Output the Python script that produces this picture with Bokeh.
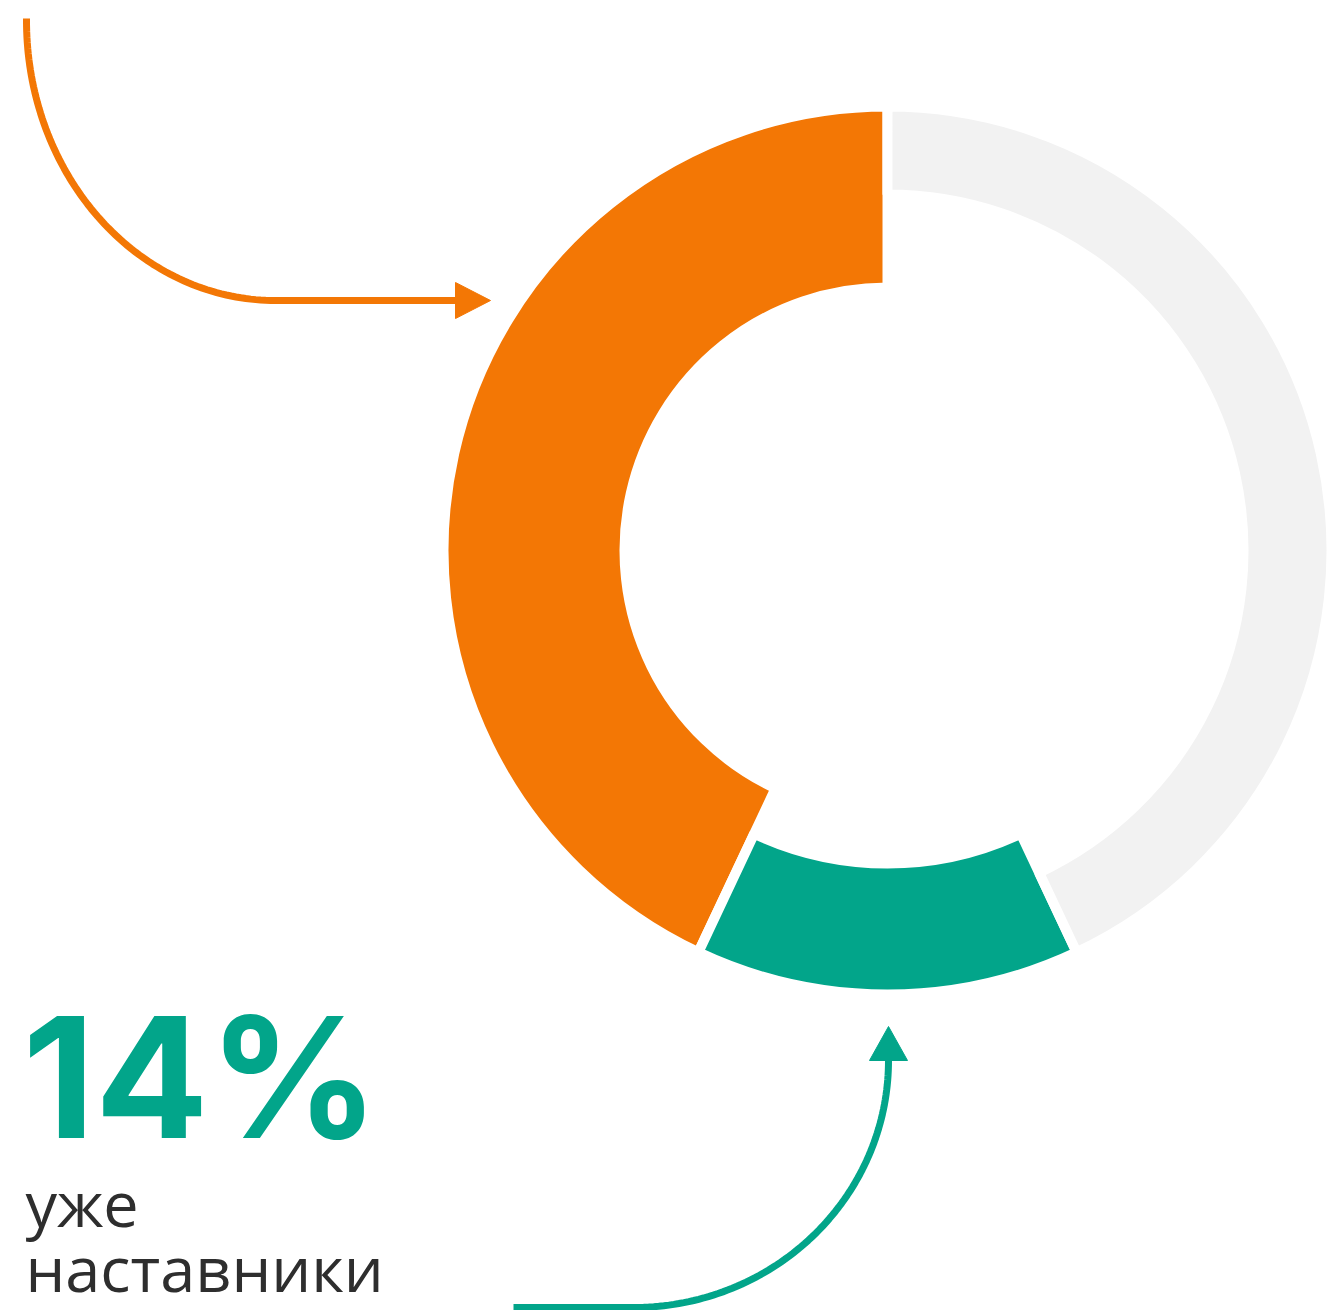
import numpy as np
from bokeh.plotting import figure
from bokeh.models import Range1d
from bokeh.core.properties import value
from bokeh.embed import file_html
from bokeh.resources import INLINE

# ---- data ----
categories = ["orange_group", "mentors", "other"]
shares = [43, 14, 43]
colors = ["#F37705", "#02A58A", "#F2F2F2"]
inner_radii = [263, 313, 356]
outer_radius = 444
pct_label = "14%"
caption_lines = ["уже", "наставники"]

W, H = 1327, 1310
p = figure(width=W, height=H, output_backend="svg", toolbar_location=None,
           x_range=Range1d(0, W), y_range=Range1d(0, H), min_border=0)
p.axis.visible = False
p.xgrid.visible = False
p.ygrid.visible = False
p.outline_line_color = None
p.background_fill_color = "white"
p.border_fill_color = "white"

cx, cy = 887, 760
total = sum(shares)
start = np.pi / 2
for cat, s, c, r_in in zip(categories, shares, colors, inner_radii):
    end = start + 2 * np.pi * s / total
    p.annular_wedge(x=cx, y=cy, inner_radius=r_in, outer_radius=outer_radius,
                    start_angle=start, end_angle=end, fill_color=c,
                    line_color="white", line_width=10)
    start = end

# orange arrow (quarter ellipse from top-left into horizontal)
t = np.linspace(0, np.pi / 2, 80)
ex, ey = 275, 1290  # ellipse centre (data coords)
ax_, by_ = 249, 280
xs = [26] + list(ex - ax_ * np.cos(t)) + [460]
ys = [1292] + list(ey - by_ * np.sin(t)) + [1010]
p.line(xs, ys, line_color="#F37705", line_width=7)
p.patch([455, 490, 455], [1028, 1010, 992], fill_color="#F37705", line_color="#F37705")

# teal arrow (horizontal then curving up)
ecx, ecy = 633, 250
a2, b2 = 255, 247
xs2 = [513] + list(ecx + a2 * np.sin(t)) + [888]
ys2 = [3] + list(ecy - b2 * np.cos(t)) + [260]
p.line(xs2, ys2, line_color="#02A58A", line_width=7)
p.patch([869, 888, 907], [250, 284, 250], fill_color="#02A58A", line_color="#02A58A")

# texts
p.text(x=[22], y=[234], text=[pct_label], text_font=value("Inter"),
       text_font_size="168px", text_font_style="bold", text_color="#02A58A",
       text_baseline="alphabetic", text_align="left")
p.text(x=[25, 25], y=[108, 43], text=caption_lines, text_font=value("Open Sans"),
       text_font_size="63px", text_color="#2E2E2E",
       text_baseline="alphabetic", text_align="left")

open("out.html", "w").write(file_html(p, INLINE))
